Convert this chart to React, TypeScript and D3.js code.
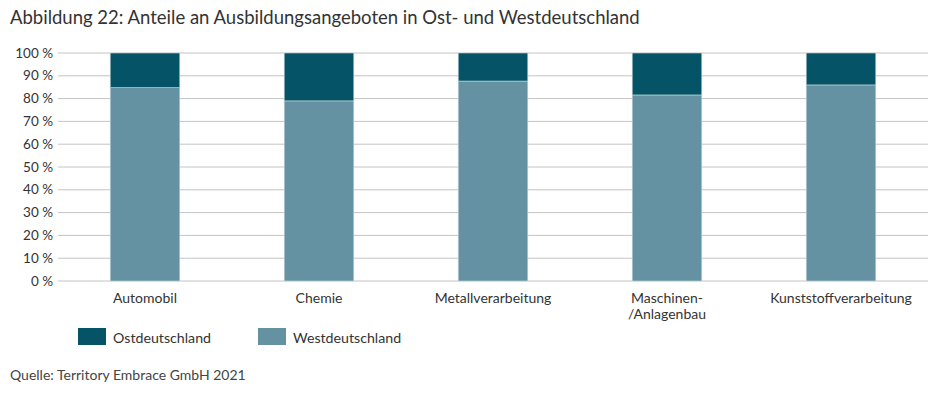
import React from 'react';
import * as d3 from 'd3';

const categories = ['Automobil', 'Chemie', 'Metallverarbeitung', 'Maschinen-\n/Anlagenbau', 'Kunststoffverarbeitung'];
const west = [84.8, 79, 87.7, 81.6, 86];
const ost = [15.2, 21, 12.3, 18.4, 14];
const yTicks = [0, 10, 20, 30, 40, 50, 60, 70, 80, 90, 100];
const seriesNames = ['Ostdeutschland', 'Westdeutschland'];
const colors = { Ostdeutschland: '#045366', Westdeutschland: '#6492a2' };

const W = 951;
const H = 395;
const margin = { left: 58, right: 23, top: 53, bottom: 114 };
const font = 'Lato, "Open Sans", sans-serif';

export default function App() {
  const x = d3.scaleBand<string>()
    .domain(categories)
    .range([margin.left, W - margin.right])
    .paddingInner(0.6)
    .paddingOuter(0.3);
  const y = d3.scaleLinear().domain([0, 100]).range([H - margin.bottom, margin.top]);

  const rows = categories.map((c, i) => ({ cat: c, Westdeutschland: west[i], Ostdeutschland: ost[i] }));
  const stacked = d3.stack<any>().keys(['Westdeutschland', 'Ostdeutschland'])(rows);

  return (
    <svg width={W} height={H} style={{ position: 'absolute', left: 0, top: 0, fontFamily: font }}>
      <text x={10} y={24} fontSize={18.5} fill="#333">
        Abbildung 22: Anteile an Ausbildungsangeboten in Ost- und Westdeutschland
      </text>
      {yTicks.map(t => (
        <g key={t}>
          <line x1={margin.left} x2={W - margin.right} y1={y(t)} y2={y(t)} stroke="#c4c4c4" strokeWidth={1} />
          <text x={53} y={y(t) + 4.5} fontSize={13.5} textAnchor="end" fill="#333">{t} %</text>
        </g>
      ))}
      {stacked.map(s => (
        <g key={s.key} fill={(colors as any)[s.key]}>
          {s.map((d, i) => (
            <rect key={i} x={x(categories[i])} width={x.bandwidth()} y={y(d[1])} height={y(d[0]) - y(d[1])}
              stroke="#c9d6db" strokeWidth={0.6} />
          ))}
        </g>
      ))}
      {categories.map(c => c.split('\n').map((line, j) => (
        <text key={c + j} x={(x(c) as number) + x.bandwidth() / 2} y={303 + j * 16}
          fontSize={14} fill="#333" textAnchor="middle">{line}</text>
      )))}
      {seriesNames.map((n, i) => (
        <g key={n} transform={`translate(${78 + i * 180},328)`}>
          <rect width={28} height={17} fill={(colors as any)[n]} />
          <text x={35} y={14.5} fontSize={14.2} fill="#333">{n}</text>
        </g>
      ))}
      <text x={10} y={380} fontSize={14} fill="#444">Quelle: Territory Embrace GmbH 2021</text>
    </svg>
  );
}
